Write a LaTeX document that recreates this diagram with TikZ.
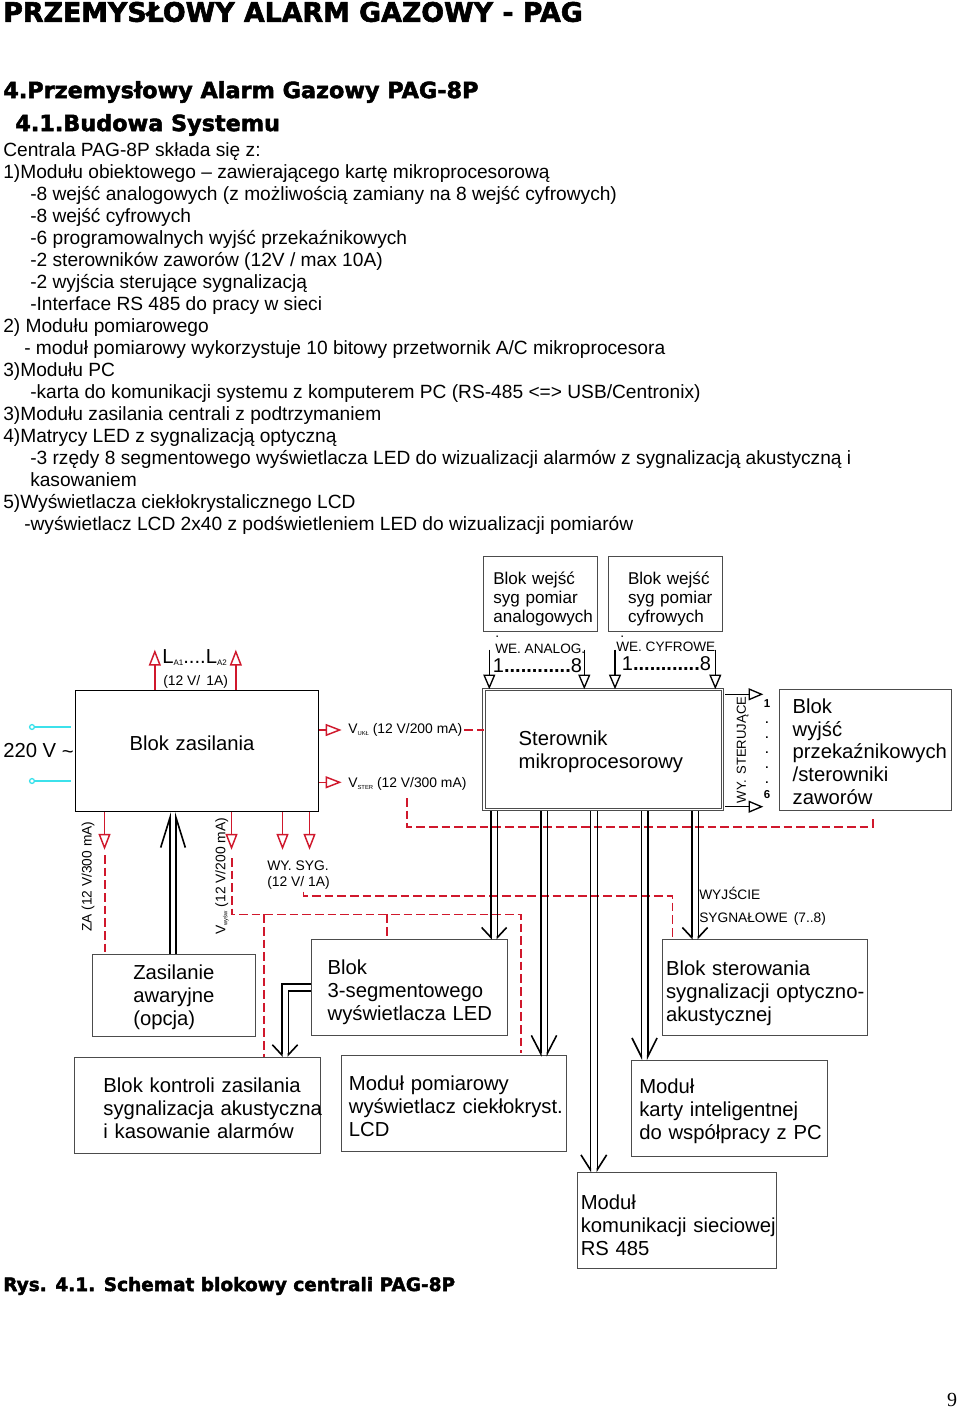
\documentclass[tikz,border=0pt]{standalone}
\usepackage{fontspec}
\setmainfont{Liberation Sans}
\newfontfamily\blackfont[BoldFeatures={FakeBold=2.2}]{DejaVu Sans}
\newfontfamily\pagefont{Liberation Serif}
\usetikzlibrary{arrows.meta, positioning, calc}
\definecolor{alarmred}{RGB}{208,24,44}
\definecolor{mains}{RGB}{60,225,235}
\newcommand{\fnt}[2]{\fontsize{#1}{#2}\selectfont}
\newcommand{\ind}{\hspace*{20.25pt}}
\newcommand{\tinysub}[2][4.4]{\raisebox{-1.5pt}{\fnt{#1}{6}#2}}
\begin{document}
\begin{tikzpicture}[x=0.75pt, y=-0.75pt,
      block/.style={rectangle, draw=black!70, line width=0.75pt, inner sep=0pt, align=left,
                    font=\fnt{15.2}{17.2}},
      pad/.style 2 args={execute at begin node={\leftskip=#1\relax\rightskip=-40pt plus 1fil\relax\leavevmode\rule{0pt}{#2}}},
      tag/.style={inner sep=0pt, anchor=west, align=left, font=\fnt{10.4}{11.4}},
      big/.style={inner sep=0pt, anchor=west, font=\fnt{15.2}{17.2}},
      head/.style={inner sep=0pt, anchor=west, font=\blackfont\bfseries},
      feed/.style={draw=alarmred, line width=1.1pt, -{Triangle[open, length=12pt, width=9pt]}},
      wire/.style={draw=alarmred, line width=1.2pt, dash pattern=on 6.5pt off 3pt},
      sig/.style={draw=black, line width=1pt, -{Triangle[open, length=11pt, width=9pt]}},
      mainsline/.style={draw=mains, line width=1pt},
      busl/.style={draw=black, line width=1.2pt, -{Straight Barb[harpoon, swap, length=#1, width=14pt]}},
      busr/.style={draw=black, line width=1.2pt, -{Straight Barb[harpoon, length=#1, width=14pt]}},
      busl/.default=7.5pt, busr/.default=7.5pt
    ]
    \useasboundingbox (0,0) rectangle (960,1410);
    % text above the schematic
    \node[head, font=\blackfont\bfseries\fnt{20.1}{22}] (title) at (3,12) {PRZEMYSŁOWY ALARM GAZOWY - PAG};
    \node[head, font=\blackfont\bfseries\fnt{16.75}{20}] (chapter) at (3,92) {4.Przemysłowy Alarm Gazowy PAG-8P};
    \node[head, font=\blackfont\bfseries\fnt{16.75}{20}] (section) at (15,125) {4.1.Budowa Systemu};
    \node[inner sep=0pt, anchor=north west, align=left, font=\fnt{14.37}{16.5}] (intro) at (3,142) {%
      Centrala PAG-8P składa się z:\\
      1)Modułu obiektowego – zawierającego kartę mikroprocesorową\\
      \ind-8 wejść analogowych (z możliwością zamiany na 8 wejść cyfrowych)\\
      \ind-8 wejść cyfrowych\\
      \ind-6 programowalnych wyjść przekaźnikowych\\
      \ind-2 sterowników zaworów (12V / max 10A)\\
      \ind-2 wyjścia sterujące sygnalizacją\\
      \ind-Interface RS 485 do pracy w sieci\\
      2) Modułu pomiarowego\\
      \hspace*{15.75pt}- moduł pomiarowy wykorzystuje 10 bitowy przetwornik A/C mikroprocesora\\
      3)Modułu PC\\
      \ind-karta do komunikacji systemu z komputerem PC (RS-485 <=> USB/Centronix)\\
      3)Modułu zasilania centrali z podtrzymaniem\\
      4)Matrycy LED z sygnalizacją optyczną\\
      \ind-3 rzędy 8 segmentowego wyświetlacza LED do wizualizacji alarmów z sygnalizacją akustyczną i\\
      \ind kasowaniem\\
      5)Wyświetlacza ciekłokrystalicznego LCD\\
      \hspace*{15.75pt}-wyświetlacz LCD 2x40 z podświetleniem LED do wizualizacji pomiarów};
    % blocks
    \node[block, draw=black, line width=1pt, minimum width=182.25pt, minimum height=91pt, text width=182.25pt, pad={40.5pt}{0pt}] (zas) at (197,751) {Blok zasilania\rule[-12pt]{0pt}{0pt}};
    \node[block, minimum width=85.5pt, minimum height=56pt, text width=85.5pt, pad={7.5pt}{16.8pt}, font=\fnt{12.8}{14.3}] (wean) at (540.3,594.2) {Blok wejść\\syg pomiar\\analogowych};
    \node[block, minimum width=85.5pt, minimum height=56pt, text width=85.5pt, pad={15pt}{16.8pt}, font=\fnt{12.8}{14.3}] (wecy) at (665,594.2) {Blok wejść\\syg pomiar\\cyfrowych};
    \node[block, double=white, double distance=1pt, line width=0.7pt, minimum width=179pt, minimum height=90pt, text width=179pt, pad={26pt}{14pt}] (ster) at (603.3,749.7) {Sterownik\\mikroprocesorowy};
    \node[block, minimum width=129.3pt, minimum height=90.5pt, text width=129.3pt, pad={10pt}{14pt}] (wyj) at (865.5,749.7) {Blok\\wyjść\\przekaźnikowych\\/sterowniki\\zaworów};
    \node[block, minimum width=121.8pt, minimum height=61.8pt, text width=121.8pt, pad={30.5pt}{13.25pt}] (awa) at (173.8,995.5) {Zasilanie\\awaryjne\\(opcja)};
    \node[block, minimum width=146.7pt, minimum height=71.6pt, text width=146.7pt, pad={12pt}{17.75pt}] (led) at (409.5,987.4) {Blok\\3-segmentowego\\wyświetlacza LED};
    \node[block, minimum width=153.7pt, minimum height=71.6pt, text width=153.7pt, pad={2.5pt}{20pt}] (opt) at (765.2,987.4) {Blok sterowania\\sygnalizacji optyczno-\\akustycznej};
    \node[block, minimum width=184.2pt, minimum height=72pt, text width=184.2pt, pad={21.5pt}{15.5pt}] (kon) at (197.6,1105.3) {Blok kontroli zasilania\\sygnalizacja akustyczna\\i kasowanie alarmów};
    \node[block, minimum width=168.3pt, minimum height=71.6pt, text width=168.3pt, pad={5.5pt}{15.5pt}] (lcd) at (453.8,1103.4) {Moduł pomiarowy\\wyświetlacz ciekłokryst.\\LCD};
    \node[block, minimum width=146.9pt, minimum height=71.6pt, text width=146.9pt, pad={5.5pt}{15.5pt}] (pc) at (729.9,1108.4) {Moduł\\karty inteligentnej\\do współpracy z PC};
    \node[block, minimum width=149.6pt, minimum height=72pt, text width=149.6pt, pad={2.5pt}{18.5pt}] (rs) at (677.2,1220.3) {Moduł\\komunikacji sieciowej\\RS 485};
    % supply side
    \node[circle, draw=mains, line width=1pt, inner sep=0pt, minimum size=3.6pt] (ac1) at (32,727) {};
    \node[circle, draw=mains, line width=1pt, inner sep=0pt, minimum size=3.6pt] (ac2) at (32,781) {};
    \draw[mainsline] (ac1) -- ($(zas.west|-ac1)+(-3.5,0)$);
    \draw[mainsline] (ac2) -- ($(zas.west|-ac2)+(-3.5,0)$);
    \node[big] (ac) at (3,751) {220 V \raisebox{-1pt}{\textasciitilde}};
    \draw[feed] ($(zas.north west)+(80,0)$) coordinate (la1) -- ++(0,-40);
    \draw[feed] ($(zas.north west)+(161,0)$) coordinate (la2) -- ++(0,-40);
    \node[big] (la) at (162,658) {L\tinysub[6]{A1}....L\tinysub[6]{A2}};
    \node[tag] (lav) at (163,682) {(12 V/ \,1A)};
    \draw[feed] (zas.east|-0,730) -- ++(22.5,0) coordinate (vuklend);
    \draw[feed] (zas.east|-0,782.3) -- ++(22.5,0) coordinate (vsterend);
    \node[tag] (vukl) at (348,730) {V\tinysub{UKŁ} (12 V/200 mA)};
    \node[tag] (vster) at (348,784) {V\tinysub{STER} (12 V/300 mA)};
    \draw[wire] ($(vukl.east)+(2,0)$) -- (ster.west|-vukl);
    \draw[wire] (407,798) coordinate (vs1) -- (407,826.7) -| ($(wyj.south west)+(94,5)$) coordinate (vs2);
    \draw[feed] ($(zas.south west)+(29.7,0)$) coordinate (za) -- ++(0,37.5);
    \draw[wire] (105,855) -- (105,0|-awa.north);
    \draw[feed] ($(zas.south west)+(156.7,0)$) -- ++(0,37.5);
    \draw[wire] (232,858) -- (232,914.3) -| (521,1053);
    \draw[wire] (264,914.3) -- (264,0|-kon.north);
    \draw[wire] (386.7,914.3) -- (386.7,0|-led.north);
    \draw[feed] ($(zas.south west)+(207.7,0)$) -- ++(0,37.5);
    \draw[feed] ($(zas.south west)+(234.7,0)$) -- ++(0,37.5);
    \draw[wire] (303.3,891.7) -- (303.3,895.7) -| (672.3,0|-opt.north);
    \node[tag, font=\fnt{10.3}{11}, rotate=90, anchor=center] (zal) at (88,876.7) {ZA (12 V/300 mA)};
    \node[tag, rotate=90, anchor=center] (vwl) at (222,876.3) {V\tinysub{wyśw} (12 V/200 mA)};
    \node[tag] (wysyg) at (267,875) {WY. SYG.\\(12 V/ 1A)};
    \draw[busr=22.5pt] (170,0|-awa.north) -- (170,0|-zas.south);
    \draw[busl=22.5pt] (176,0|-awa.north) -- (176,0|-zas.south);
    % controller side
    \foreach \x/\nm in {489.3/a1, 584.3/a8, 615/c1, 715.3/c8}
      \draw[sig] (\x,649.5) coordinate (in\nm) -- (\x,0|-ster.north);
    \node[tag, font=\fnt{10.2}{11}] (anl) at (495,649) {WE. ANALOG.};
    \node[tag, font=\fnt{10.2}{11}] (cyl) at (616,647) {WE. CYFROWE};
    \node[tag] (dota) at (495,637) {.};
    \node[tag] (dotc) at (620,637) {.};
    \node[big, font=\fnt{15}{17}] (ar) at (492.7,665.7) {1\textbf{............}8};
    \node[big, font=\fnt{15}{17}] (cr) at (621.7,664) {1\textbf{............}8};
    \draw[sig] (725,694.3) coordinate (out1) -- (763.3,694.3);
    \draw[sig] (725,806.7) coordinate (out6) -- (763.3,806.7);
    \node[tag, font=\fnt{9.8}{11}, rotate=90, anchor=center] (wyl) at (742.7,750) {WY. \,STERUJĄCE};
    \node[inner sep=0pt, align=center, font=\bfseries\fnt{8.6}{11.38}] (onum) at (767,749.5) {1\\.\\.\\.\\.\\.\\6};
    % buses: x of left leg, x of right leg, start, end, barb length
    \foreach \xa/\xb/\ya/\yb/\bl in {491/497.3/811/939.5/7.5pt, 540.7/547.3/811/1056.7/13.5pt, 590.3/597.3/811/1172.3/11pt, 641.3/647.7/811/1060/14pt, 691.7/698.3/811/939.5/7.5pt} {
      \draw[busl=\bl] (\xa,\ya) -- (\xa,\yb);
      \draw[busr=\bl] (\xb,\ya) -- (\xb,\yb);
    }
    \draw[busl] (led.west|-0,984) -| (281.7,0|-kon.north);
    \draw[busr] (led.west|-0,990.7) -| (288.3,0|-kon.north);
    \node[tag, font=\fnt{10.3}{17}] (wysl) at (699,906.5) {WYJŚCIE\\SYGNAŁOWE \,(7..8)};
    % caption and page number
    \node[head, font=\blackfont\bfseries\fnt{13.88}{16}] (caption) at (3,1286) {Rys. 4.1. Schemat blokowy centrali PAG-8P};
    \node[inner sep=0pt, font=\pagefont\fnt{15}{17}] (page) at (952,1400) {9};
\end{tikzpicture}
\end{document}
